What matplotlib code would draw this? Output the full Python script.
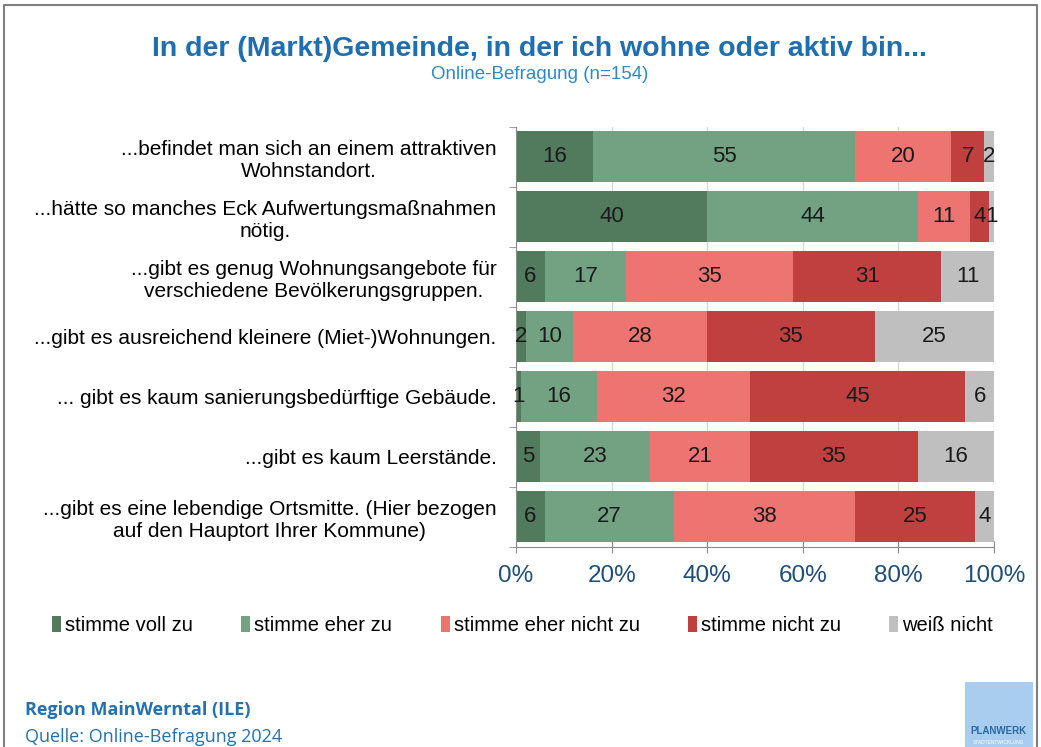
import numpy as np
import matplotlib.pyplot as plt
from matplotlib.patches import Rectangle

plt.rcParams['font.family'] = ['Liberation Sans', 'DejaVu Sans']

# Aussagen (von oben nach unten)
categories = [
    "...befindet man sich an einem attraktiven\nWohnstandort.",
    "...hätte so manches Eck Aufwertungsmaßnahmen\nnötig.",
    "...gibt es genug Wohnungsangebote für\nverschiedene Bevölkerungsgruppen.",
    "...gibt es ausreichend kleinere (Miet-)Wohnungen.",
    "... gibt es kaum sanierungsbedürftige Gebäude.",
    "...gibt es kaum Leerstände.",
    "...gibt es eine lebendige Ortsmitte. (Hier bezogen\nauf den Hauptort Ihrer Kommune)",
]
series_names = ["stimme voll zu", "stimme eher zu", "stimme eher nicht zu",
                "stimme nicht zu", "weiß nicht"]
voll_zu = [16, 40, 6, 2, 1, 5, 6]
eher_zu = [55, 44, 17, 10, 16, 23, 27]
eher_nicht = [20, 11, 35, 28, 32, 21, 38]
nicht_zu = [7, 4, 31, 35, 45, 35, 25]
weiss_nicht = [2, 1, 11, 25, 6, 16, 4]
xticks = [0, 20, 40, 60, 80, 100]
xtick_labels = ["0%", "20%", "40%", "60%", "80%", "100%"]

colors = ["#517b5c", "#72a282", "#ee7472", "#c03f3f", "#bfbfbf"]
blue = "#1f6fb0"

fig = plt.figure(figsize=(10.41, 7.47), dpi=100)
ax = fig.add_axes([0.4957, 0.268, 0.4592, 0.562])

data = np.array([voll_zu, eher_zu, eher_nicht, nicht_zu, weiss_nicht], dtype=float)
y = np.arange(len(categories))
left = np.zeros(len(categories))
for vals, name, col in zip(data, series_names, colors):
    bars = ax.barh(y, vals, left=left, height=0.85, color=col, label=name, zorder=2)
    ax.bar_label(bars, labels=[str(int(v)) for v in vals], label_type='center',
                 fontsize=16, color='#1a1a1a')
    left += vals

ax.set_xlim(0, 100)
ax.set_ylim(len(categories) - 0.5, -0.5)
ax.set_xticks(xticks)
ax.set_xticklabels(xtick_labels, fontsize=17.5, color='#1f4e79')
ax.tick_params(axis='x', direction='inout', length=8, color='#8c8c8c', pad=9)
ax.set_yticks(y)
ax.set_yticklabels(categories, fontsize=15)
for lbl in ax.get_yticklabels():
    lbl.set_multialignment('center')
    lbl.set_linespacing(1.2)
ax.tick_params(axis='y', length=0, pad=14)
ax.set_yticks(np.arange(-0.5, len(categories)), minor=True)
ax.tick_params(axis='y', which='minor', length=5, color='#8c8c8c')
ax.grid(axis='x', color='#d9d9d9', linewidth=1, zorder=0)
ax.set_axisbelow(True)
for s in ['top', 'right']:
    ax.spines[s].set_visible(False)
for s in ['left', 'bottom']:
    ax.spines[s].set_color('#8c8c8c')

ax.legend(loc='center', bbox_to_anchor=(0.502, 0.163), bbox_transform=fig.transFigure,
          ncol=5, frameon=False, fontsize=14.5, handlelength=0.45, handleheight=0.9,
          handletextpad=0.2, columnspacing=2.4)

fig.text(0.518, 0.934, "In der (Markt)Gemeinde, in der ich wohne oder aktiv bin...",
         ha='center', va='center', fontsize=20.5, fontweight='bold', color=blue)
fig.text(0.518, 0.900, "Online-Befragung (n=154)", ha='center', va='center',
         fontsize=13.5, color='#3189c6')

fig.text(0.024, 0.049, "Region MainWerntal (ILE)", fontsize=13, fontweight='bold',
         color='#2371ad', family=['Open Sans', 'DejaVu Sans'], va='center')
fig.text(0.024, 0.014, "Quelle: Online-Befragung 2024", fontsize=13,
         color='#2371ad', family=['Open Sans', 'DejaVu Sans'], va='center')

# Logo
fig.patches.append(Rectangle((0.927, -0.01), 0.065, 0.097, transform=fig.transFigure,
                             facecolor='#a9cdee', edgecolor='none'))
fig.text(0.9595, 0.022, "PLANWERK", ha='center', va='center', fontsize=7,
         fontweight='bold', color='#2a6aa5')
fig.text(0.9595, 0.006, "STADTENTWICKLUNG", ha='center', va='center', fontsize=3.5,
         color='white')

# Rahmen
fig.add_artist(plt.Line2D([0.004, 0.004, 0.996, 0.996], [0, 0.993, 0.993, 0],
                          transform=fig.transFigure, color='#7f7f7f', linewidth=1.5))

fig.savefig("out.png", dpi=100)
